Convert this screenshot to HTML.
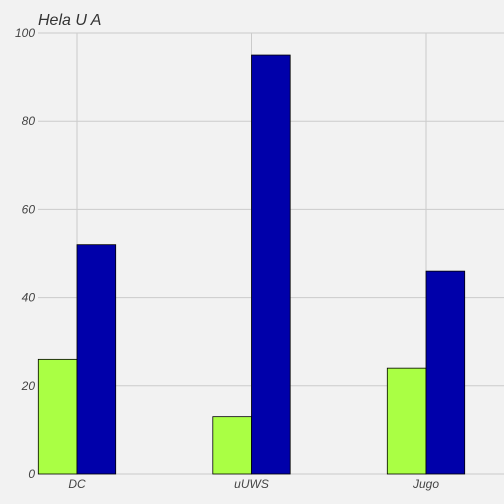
<!DOCTYPE html>
<html><head><meta charset="utf-8"><style>
html,body{margin:0;padding:0;background:#f2f2f2;}
svg{display:block;font-family:"Liberation Sans",sans-serif;}
</style></head><body>
<svg id="chart" width="504" height="504">
<rect width="504" height="504" fill="#f2f2f2"/>
<text x="38" y="25" font-size="16" font-style="italic" fill="#333">Hela U A</text>
<g id="grid"></g><g id="bars"></g><g id="labels"></g>
</svg>
<script>
const categories = ["DC", "uUWS", "Jugo"];
const seriesGreen = [26, 13, 24];
const seriesBlue = [52, 95, 46];
const yTicks = [0, 20, 40, 60, 80, 100];
const NS = "http://www.w3.org/2000/svg";
const y0 = 474, y1 = 33, yMax = 100;
function yScale(v){ return y0 - (v / yMax) * (y0 - y1); }
const cx0 = 77, step = 174.5, bw = 38.7;
function xScale(i){ return cx0 + i * step; }
function mk(tag, attrs, parent){ const e = document.createElementNS(NS, tag); for (const k in attrs) e.setAttribute(k, attrs[k]); document.getElementById(parent).appendChild(e); return e; }
yTicks.forEach(t => {
  const y = yScale(t);
  const l = mk("line", {x1: 38, x2: 504, y1: y, y2: y, stroke: "#cbcbcb", "stroke-width": 1}, "grid");
  
  
  const tx = mk("text", {x: 35, y: y + 4, "text-anchor": "end", "font-size": 12, "font-style": "italic", fill: "#444"}, "labels");
  tx.textContent = t;
  
  
});
categories.forEach((c, i) => {
  const x = xScale(i);
  const l = mk("line", {x1: x, x2: x, y1: y1, y2: y0, stroke: "#cbcbcb", "stroke-width": 1}, "grid");
  
  
  const g = mk("rect", {x: x - bw, y: yScale(seriesGreen[i]), width: bw, height: y0 - yScale(seriesGreen[i]), fill: "#aaff44", stroke: "#000", "stroke-width": 0.8}, "bars");
  
  
  const b = mk("rect", {x: x, y: yScale(seriesBlue[i]), width: bw, height: y0 - yScale(seriesBlue[i]), fill: "#0000aa", stroke: "#000", "stroke-width": 0.8}, "bars");
  
  
  const tx = mk("text", {x: x, y: 488, "text-anchor": "middle", "font-size": 12, "font-style": "italic", fill: "#444"}, "labels");
  tx.textContent = c;
  
  
});
</script>
</body></html>
